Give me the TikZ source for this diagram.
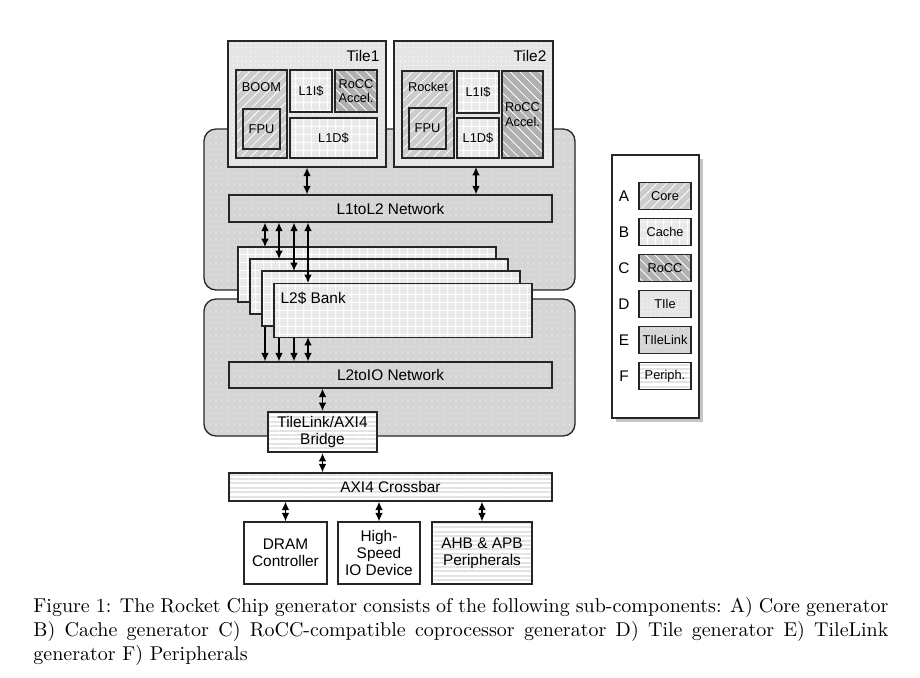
\documentclass[tikz,border=0pt]{standalone}
\usepackage{fontspec}
\newfontfamily\helv{Liberation Sans}
\usetikzlibrary{arrows.meta,patterns.meta,shadows}

\tikzset{
  box/.style={draw=black!85, line width=0.65pt, inner sep=0pt, align=center,
    font=\helv\fontsize{7.7}{8.6}\selectfont},
  small/.style={font=\helv\fontsize{6.4}{7.3}\selectfont},
  coregen/.style={box, preaction={fill=gray!40}, pattern={Lines[angle=45,distance=3.4pt,line width=0.4pt]}, pattern color=white},
  cachegen/.style={box, preaction={fill=gray!17}, pattern={Hatch[angle=0,distance=4pt,line width=0.45pt]}, pattern color=white},
  roccgen/.style={box, preaction={fill=gray!62}, pattern={Lines[angle=-45,distance=3.4pt,line width=0.4pt]}, pattern color=white},
  tilegen/.style={box, preaction={fill=gray!20}, pattern={Dots[radius=0.3pt,distance=2.2pt]}, pattern color=white},
  linkgen/.style={box, preaction={fill=gray!33}, pattern={Dots[radius=0.35pt,distance=3pt]}, pattern color=white},
  periphgen/.style={box, preaction={fill=white}, pattern={Lines[angle=0,distance=2.2pt,line width=1pt]}, pattern color=gray!22},
  plain/.style={box, fill=white},
  dbl/.style={{Latex[length=4.2pt,width=3.8pt]}-{Latex[length=4.2pt,width=3.8pt]}, line width=0.65pt},
  sgl/.style={-{Latex[length=4.2pt,width=3.8pt]}, line width=0.65pt}
}

\begin{document}
\begin{tikzpicture}[x=0.5pt,y=-0.5pt]
	\useasboundingbox (0,0) rectangle (920,677);
	% TileLink regions
	\draw[linkgen, rounded corners=6pt] (204,129) rectangle (575,290);
	\draw[linkgen, rounded corners=6pt] (204,299) rectangle (575,436);
	% tiles
	\node[tilegen, minimum width=79pt, minimum height=63pt] (tile1) at (307,104) {};
	\node[tilegen, minimum width=79.5pt, minimum height=63pt] (tile2) at (473.5,104) {};
	\node[box, draw=none, anchor=east] at (380,56) {Tile1};
	\node[box, draw=none, anchor=east] at (547,56) {Tile2};
	% tile1
	\node[coregen, minimum width=25.5pt, minimum height=44pt] (boom) at (261.5,114) {};
	\node[box, small, draw=none] at (261.5,87) {BOOM};
	\node[coregen, small, minimum width=18.5pt, minimum height=20pt] (fpu1) at (261.5,129) {FPU};
	\node[cachegen, small, minimum width=21pt, minimum height=21pt] (l1i1) at (311,91) {L1I\$};
	\node[roccgen, small, minimum width=21pt, minimum height=21pt] (rocc1) at (356,91) {RoCC\\Accel.};
	\node[cachegen, small, minimum width=43.5pt, minimum height=20pt] (l1d1) at (333.5,138) {L1D\$};
	% tile2
	\node[coregen, minimum width=26pt, minimum height=43.5pt] (rocket) at (428,114.5) {};
	\node[box, small, draw=none] at (428,87) {Rocket};
	\node[coregen, small, minimum width=18.5pt, minimum height=20.5pt] (fpu2) at (427.5,128.5) {FPU};
	\node[cachegen, small, minimum width=21pt, minimum height=21pt] (l1i2) at (478,92) {L1I\$};
	\node[cachegen, small, minimum width=21pt, minimum height=20pt] (l1d2) at (478,138) {L1D\$};
	\node[roccgen, small, minimum width=20.5pt, minimum height=43.5pt] (rocc2) at (522.5,114.5) {RoCC\\Accel.};
	% networks
	\node[box, minimum width=161.5pt, minimum height=13.5pt] (l1tol2) at (390.5,208.5) {L1toL2 Network};
	\node[box, minimum width=161.5pt, minimum height=13pt] (l2toio) at (390.5,375) {L2toIO Network};
	\coordinate (t2out) at (476,167);
	\draw[dbl] (tile1.south) -- (l1tol2.north -| tile1.south);
	\draw[dbl] (t2out) -- (l1tol2.north -| t2out);
	% L2 banks
	\coordinate (b1) at (265,247);
	\coordinate (b2) at (279,259);
	\coordinate (b3) at (294,271);
	\coordinate (b4) at (308,283);
	\draw[sgl] (265,302) -- (l2toio.north -| b1);
	\draw[sgl] (279,314) -- (l2toio.north -| b2);
	\draw[sgl] (294,326) -- (l2toio.north -| b3);
	\draw[dbl] (308,337) -- (l2toio.north -| b4);
	\node[cachegen, minimum width=129pt, minimum height=27.5pt] (bank1) at (367,274.5) {};
	\node[cachegen, minimum width=129pt, minimum height=27.5pt] (bank2) at (379,286.5) {};
	\node[cachegen, minimum width=129pt, minimum height=27.5pt] (bank3) at (391,298.5) {};
	\node[cachegen, minimum width=129pt, minimum height=27pt] (bank4) at (403,310.5) {};
	\node[box, draw=none, anchor=west] at (280,298) {L2\$ Bank};
	\draw[dbl] (l1tol2.south -| b1) -- (b1);
	\draw[dbl] (l1tol2.south -| b2) -- (b2);
	\draw[dbl] (l1tol2.south -| b3) -- (b3);
	\draw[dbl] (l1tol2.south -| b4) -- (b4);
	% IO
	\node[periphgen, minimum width=54.5pt, minimum height=20pt] (bridge) at (322.5,432) {TileLink/AXI4\\Bridge};
	\node[periphgen, minimum width=161.5pt, minimum height=14pt] (xbar) at (390.5,487) {AXI4 Crossbar};
	\draw[dbl] (l2toio.south -| bridge) -- (bridge);
	\draw[dbl] (bridge) -- (xbar.north -| bridge);
	\node[plain, minimum width=41.5pt, minimum height=31pt] (dram) at (285.5,553) {DRAM\\Controller};
	\node[plain, minimum width=41pt, minimum height=31pt] (hsio) at (379,553) {High-\\Speed\\IO Device};
	\node[periphgen, minimum width=50pt, minimum height=31pt] (ahb) at (482,553) {AHB \& APB\\Peripherals};
	\draw[dbl] (xbar.south -| dram) -- (dram);
	\draw[dbl] (xbar.south -| hsio) -- (hsio);
	\draw[dbl] (xbar.south -| ahb) -- (ahb);
	% legend
	\node[box, fill=white, drop shadow={shadow xshift=2pt, shadow yshift=-2pt, opacity=0.45}, minimum width=43.5pt, minimum height=131.5pt] (legend) at (655.5,286.5) {};
	\node[box, draw=none] at (624,196) {A};
	\node[box, draw=none] at (624,232) {B};
	\node[box, draw=none] at (624,268) {C};
	\node[box, draw=none] at (624,304) {D};
	\node[box, draw=none] at (624,340) {E};
	\node[box, draw=none] at (624,376) {F};
	\node[coregen, small, minimum width=26pt, minimum height=13.5pt] (kcore) at (665,196) {Core};
	\node[cachegen, small, minimum width=26pt, minimum height=13.5pt] (kcache) at (665,232) {Cache};
	\node[roccgen, small, minimum width=26pt, minimum height=13.5pt] (krocc) at (665,268) {RoCC};
	\node[tilegen, small, minimum width=26pt, minimum height=13.5pt] (ktile) at (665,304) {TIle};
	\node[linkgen, small, minimum width=26pt, minimum height=13.5pt] (klink) at (665,340) {TIleLink};
	\node[periphgen, small, minimum width=26pt, minimum height=13.5pt] (kperiph) at (665,376) {Periph.};
	% caption
	\node[anchor=north west, inner sep=0pt, text width=427.5pt, align=justify, font=\fontsize{10}{12}\selectfont] (caption) at (33,597) {Figure 1: The Rocket Chip generator consists of the following sub-components: A) Core generator B) Cache generator C) RoCC-compatible coprocessor generator D) Tile generator E) TileLink generator F) Peripherals};
\end{tikzpicture}
\end{document}
